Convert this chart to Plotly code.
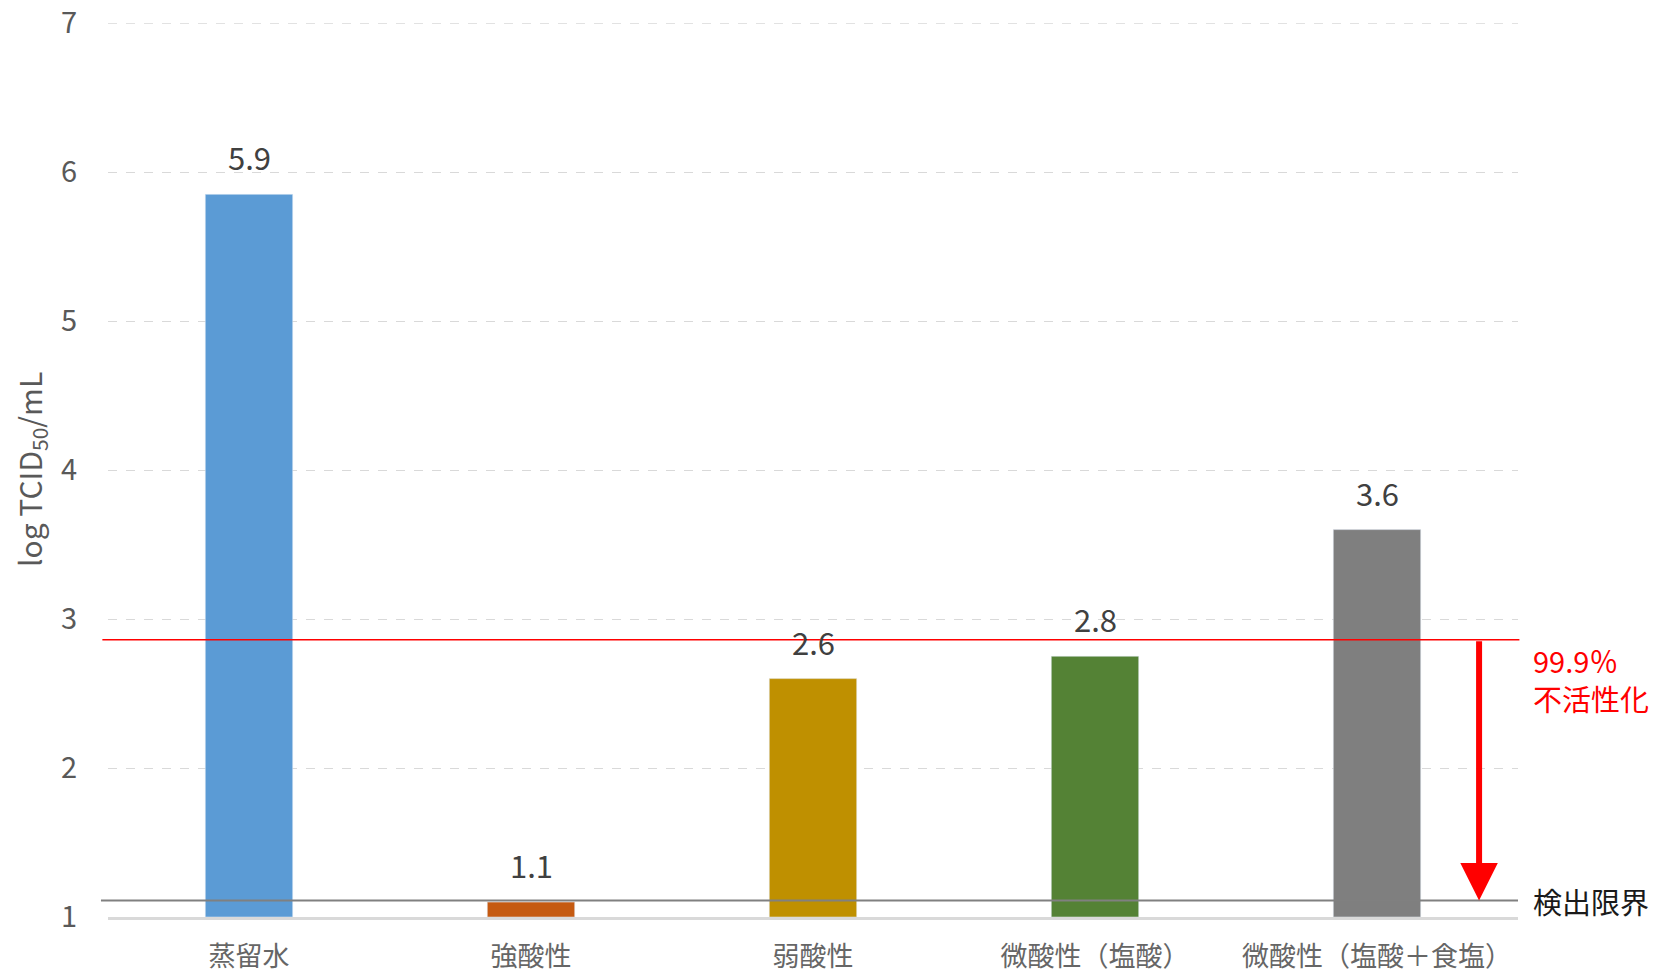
import plotly.graph_objects as go

categories = ["蒸留水", "強酸性", "弱酸性", "微酸性（塩酸）", "微酸性（塩酸＋食塩）"]
values = [5.85, 1.10, 2.60, 2.75, 3.60]
value_labels = ["5.9", "1.1", "2.6", "2.8", "3.6"]
colors = ["#5B9BD5", "#C55A11", "#BF9000", "#548235", "#7F7F7F"]
y_ticks = [1, 2, 3, 4, 5, 6, 7]
inactivation_level = 2.86
detection_limit = 1.11
axis_base = 1

FONT = "Noto Sans CJK JP"

fig = go.Figure()
fig.add_trace(go.Bar(
    x=categories, y=[v - axis_base for v in values], base=axis_base,
    marker_color=colors, width=0.31, showlegend=False, hoverinfo="skip",
))

for c, v, t in zip(categories, values, value_labels):
    fig.add_annotation(x=c, y=v, text=t, showarrow=False, yanchor="bottom",
                       yshift=13, font=dict(family=FONT, size=31, color="#404040"))

# reference lines
fig.add_shape(type="line", xref="paper", yref="y", x0=-0.004, x1=1.001,
              y0=inactivation_level, y1=inactivation_level,
              line=dict(color="#FF0000", width=1.5))
fig.add_shape(type="line", xref="paper", yref="y", x0=-0.005, x1=1.0,
              y0=detection_limit, y1=detection_limit,
              line=dict(color="#808080", width=2))
# top gridline at 7
fig.add_shape(type="line", xref="paper", yref="y", x0=0, x1=1,
              y0=y_ticks[-1], y1=y_ticks[-1],
              line=dict(color="#D9D9D9", width=1.3, dash="dash"))

# arrow
fig.add_annotation(x=4.362, y=detection_limit, ax=4.362, ay=inactivation_level,
                   xref="x", yref="y", axref="x", ayref="y", text="",
                   showarrow=True, arrowhead=2, arrowsize=1.25, arrowwidth=6,
                   arrowcolor="#FF0000")

fig.add_annotation(xref="paper", yref="y", x=1.009, y=inactivation_level,
                   xanchor="left", yanchor="top", yshift=3, align="left",
                   text="99.9％<br>不活性化", showarrow=False,
                   font=dict(family=FONT, size=29, color="#FF0000"))
fig.add_annotation(xref="paper", yref="y", x=1.009, y=detection_limit,
                   xanchor="left", yanchor="middle", align="left",
                   text="検出限界", showarrow=False,
                   font=dict(family=FONT, size=29, color="#1A1A1A"))

fig.add_annotation(xref="paper", yref="paper", x=-0.0553, y=0.5,
                   xanchor="center", yanchor="middle", textangle=-90,
                   text="log TCID<sub>50</sub>/mL", showarrow=False,
                   font=dict(family=FONT, size=30, color="#595959"))

fig.update_layout(
    width=1668, height=977,
    margin=dict(l=108, r=150, t=23, b=60),
    plot_bgcolor="white", paper_bgcolor="white",
    font=dict(family=FONT),
)
fig.update_xaxes(
    automargin=False,
    showline=True, linecolor="#D9D9D9", linewidth=2.5,
    showgrid=False, ticks="", ticklabelstandoff=14,
    tickfont=dict(family=FONT, size=27, color="#666666"),
)
fig.update_yaxes(
    automargin=False, ticklabeloverflow="allow",
    range=[1, 7], tickvals=y_ticks, showgrid=True, gridcolor="#D9D9D9",
    griddash="dash", gridwidth=1.3, zeroline=False, showline=False,
    ticklabelstandoff=30,
    tickfont=dict(family=FONT, size=29, color="#595959"),
)

fig.write_html("out.html")
